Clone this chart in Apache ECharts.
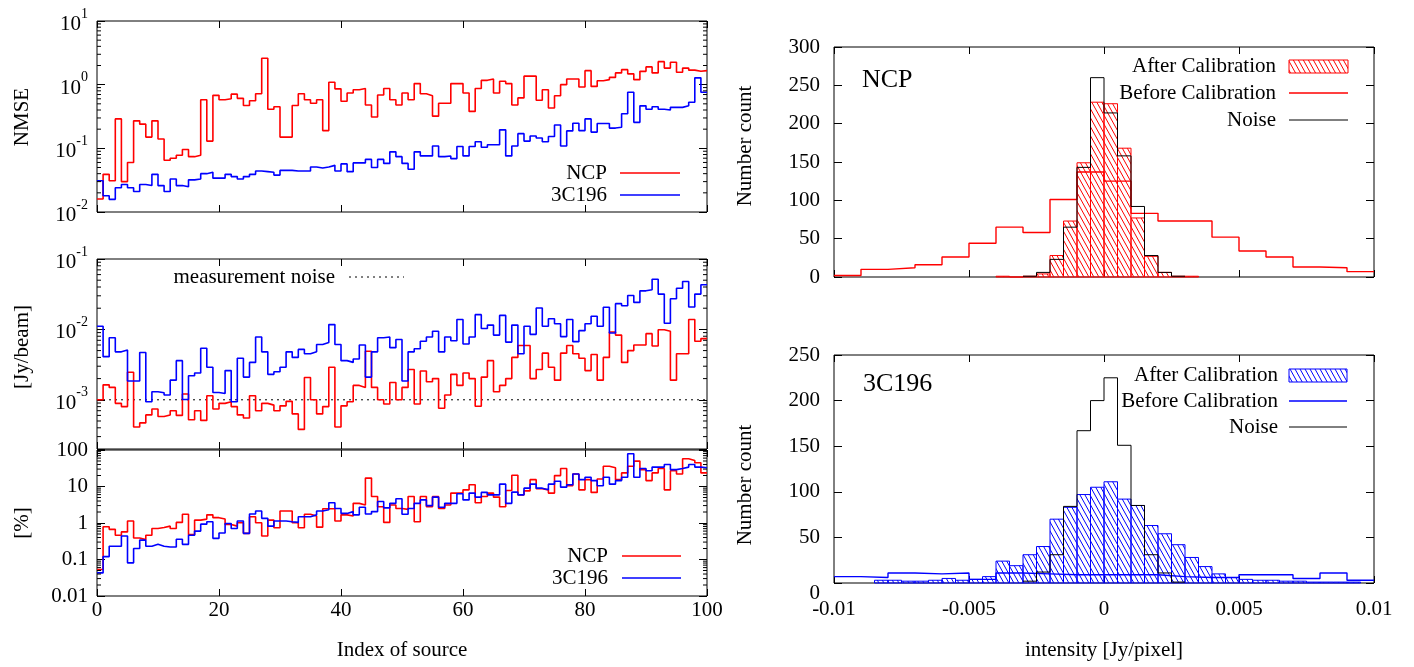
<!DOCTYPE html>
<html><head><meta charset="utf-8">
<script src="https://cdn.jsdelivr.net/npm/echarts@6/dist/echarts.min.js"></script>
<style>html,body{margin:0;padding:0;background:#fff}#c{width:1414px;height:667px}</style>
</head><body><div id="c"></div>
<script>
const FONT = '"Liberation Serif","DejaVu Serif",serif';
const RED = '#ff0000', BLUE = '#0000ff';

// ---------- left panels: per-source values (index 0..99) ----------
const nmseNCP = [0.016,0.039,0.031,0.29,0.030,0.060,0.27,0.24,0.15,0.27, 0.14,0.065,0.070,0.078,0.096,0.074,0.078,0.58,0.13,0.68, 0.58,0.60,0.71,0.61,0.47,0.56,0.72,2.6,0.41,0.45, 0.15,0.15,0.47,0.72,0.58,0.51,0.58,0.19,1.09,0.86, 0.55,0.74,0.83,0.87,0.48,0.31,0.69,0.87,0.58,0.48, 0.74,0.58,1.04,0.72,0.67,0.32,0.51,0.51,1.04,1.04, 0.74,0.38,0.87,1.17,1.23,0.74,1.13,1.04,0.48,0.62, 1.36,1.36,0.57,0.83,0.43,0.67,1.0,1.23,1.23,0.92, 1.66,0.94,1.15,1.2,1.3,1.53,1.72,1.48,1.2,1.62, 1.9,1.53,2.3,1.82,2.25,1.57,1.82,1.69,1.62,1.66];
const nmse3C196 = [0.031,0.018,0.0158,0.024,0.027,0.024,0.021,0.027,0.026,0.039, 0.026,0.021,0.033,0.026,0.025,0.032,0.033,0.040,0.042,0.034, 0.034,0.039,0.036,0.033,0.036,0.039,0.044,0.043,0.042,0.038, 0.045,0.045,0.044,0.044,0.044,0.051,0.049,0.051,0.054,0.044, 0.057,0.043,0.059,0.059,0.067,0.050,0.067,0.058,0.088,0.074, 0.058,0.047,0.088,0.076,0.076,0.109,0.074,0.076,0.069,0.107, 0.076,0.107,0.127,0.104,0.114,0.114,0.195,0.076,0.109,0.17, 0.13,0.156,0.145,0.127,0.153,0.233,0.109,0.188,0.248,0.19, 0.29,0.18,0.245,0.245,0.208,0.215,0.35,0.76,0.256,0.465, 0.41,0.45,0.41,0.40,0.44,0.44,0.465,0.53,1.28,0.76];
const jyNCP = [0.0010,0.00163,0.0015,0.00089,0.00080,0.00246,0.00041,0.00047,0.00061,0.00074, 0.00058,0.00061,0.00070,0.00060,0.00121,0.00052,0.00070,0.00051,0.00114,0.00074, 0.00089,0.00094,0.00080,0.00061,0.00055,0.00114,0.00070,0.00089,0.00084,0.00070, 0.00082,0.00095,0.00063,0.00038,0.00207,0.0010,0.00063,0.00080,0.0029,0.00041, 0.00082,0.00094,0.0016,0.0015,0.0049,0.0015,0.0010,0.00087,0.00176,0.0010, 0.0015,0.0027,0.00087,0.00256,0.0018,0.0020,0.00076,0.00117,0.0023,0.0016, 0.0024,0.0020,0.00081,0.0021,0.0036,0.0013,0.0016,0.0020,0.0040,0.0059, 0.0059,0.0020,0.0027,0.0046,0.0029,0.0019,0.0046,0.0059,0.0045,0.0039, 0.0026,0.0044,0.0019,0.0040,0.0092,0.0083,0.0034,0.0050,0.0060,0.0060, 0.0087,0.0058,0.0099,0.0094,0.0019,0.0045,0.0045,0.0138,0.0068,0.0074];
const jy3C196 = [0.0111,0.0041,0.0076,0.0048,0.0051,0.00185,0.00185,0.0047,0.00094,0.0013, 0.00126,0.00117,0.0019,0.0036,0.00101,0.0022,0.0024,0.0054,0.0029,0.00127, 0.00123,0.0026,0.00094,0.0039,0.0021,0.0034,0.0078,0.0048,0.0023,0.0025, 0.0029,0.0048,0.0040,0.0052,0.0045,0.0048,0.0061,0.0065,0.0117,0.0061, 0.0036,0.0034,0.0038,0.0060,0.0021,0.0048,0.0076,0.0078,0.0055,0.0072, 0.00185,0.0048,0.0053,0.0068,0.0078,0.0094,0.0048,0.0078,0.0069,0.0138, 0.0062,0.0078,0.0162,0.0103,0.0115,0.0083,0.0158,0.0066,0.0115,0.0045, 0.0111,0.0085,0.0201,0.0111,0.0142,0.0120,0.0079,0.0138,0.0067,0.0096, 0.0120,0.0154,0.0111,0.0206,0.0089,0.0232,0.0217,0.0303,0.0242,0.0353, 0.0365,0.0516,0.0317,0.0122,0.0272,0.0385,0.0479,0.0208,0.0317,0.0430];
const noiseLevel = 0.001;
const pctNCP = [0.053,0.79,0.67,0.46,0.57,1.13,0.39,0.35,0.46,0.71, 0.75,0.82,0.71,1.04,1.73,0.48,1.2,1.28,1.67,1.40, 1.28,0.91,0.82,1.02,0.52,1.48,1.02,0.44,1.2,0.74, 2.13,2.13,1.02,0.74,1.73,1.56,0.77,2.45,2.45,1.13, 1.67,1.56,3.45,3.1,17,5.3,2.8,1.04,3.1,2.5, 2.36,5.3,1.08,5.3,2.8,5.3,2.5,3.1,6.6,6.6, 8.1,11.2,3.6,5.3,6.6,5.1,2.8,7.8,20.3,5.9, 7.6,15.4,8.7,8.1,6.6,19.9,31,10.5,22,8.1, 15.4,6.9,16.1,36,32.5,15.4,23.6,36,49.6,29, 14.5,23.6,31,8.1,27,22,57.5,51.8,44.6,23.6];
const pct3C196 = [0.043,0.12,0.23,0.23,0.44,0.081,0.20,0.34,0.23,0.26, 0.23,0.22,0.22,0.36,0.26,0.46,0.60,0.93,1.08,0.38, 0.53,0.97,0.71,1.13,0.52,1.77,2.13,1.34,0.82,1.13, 1.13,1.08,1.04,1.48,1.48,1.67,2.13,2.3,3.6,2.5, 1.83,2.05,1.67,2.7,1.77,2.05,3.9,2.6,3.45,4.6, 1.73,2.5,3.45,4.3,3.0,5.1,2.7,3.45,3.45,6.3, 4.3,6.6,5.1,6.9,5.9,5.9,11.6,3.45,7.0,5.9, 9.0,11.6,9.0,8.1,11.6,13.9,9.6,11.2,22,15.4, 17.9,14.5,10.5,17.9,11.6,14.5,17.9,79,17.9,31, 27,34,34,40,29,31,34,40,34,32.5];

// ---------- right panels: histograms (first bin edge, bin width, counts) ----------
const afterWidth = 0.0005, beforeWidth = 0.001, noiseWidth = 0.0005;
const ncpAfterStart = -0.004;
const ncpAfter = [1,0,1,4,28,73,149,228,226,168,77,27,6,1,1];
const ncpBeforeStart = -0.01;
const ncpBefore = [2,10,12,16,26,44,65,58,101,137,125,83,73,73,52,34,26,13,12,7];
const ncpNoiseStart = -0.003;
const ncpNoise = [1,6,23,65,143,260,214,158,92,28,6,1];
const c3AfterStart = -0.0085;
const c3After = [3,3,2,2,3,5,3,4,7,24,19,31,40,70,83,97,105,111,92,85,63,54,42,28,18,10,6,4,3,3,2,2,1,1,1,1];
const c3BeforeStart = -0.01;
const c3Before = [7,6,11,10,11,4,11,10,9,9,9,9,7,6,6,9,9,5,11,3];
const c3NoiseStart = -0.003;
const c3Noise = [2,12,31,84,167,200,225,151,85,31,11,1];

// tick label text
const rightXTickText = ['-0.01','-0.005','0','0.005','0.01'];
const pctTickText = ['0.01','0.1','1','10','100'];
const minorMantissa = [2,3,4,5,6,7,8,9];

// ---------- helpers ----------
function stepData(vals){ const d = vals.map((v,i)=>[i,v]); d.push([vals.length, vals[vals.length-1]]); return d; }
function histStep(start, w, counts){ const d = counts.map((c,i)=>[+(start+i*w).toFixed(5), c]); d.push([+(start+counts.length*w).toFixed(5), counts[counts.length-1]]); return d; }
function histBars(start, w, counts){ return counts.map((c,i)=>[+(start+i*w).toFixed(5), +(start+(i+1)*w).toFixed(5), c]); }
function makeHatch(color){
  const w=5,h=9; const cv=document.createElement('canvas'); cv.width=w; cv.height=h;
  const g=cv.getContext('2d'); g.strokeStyle=color; g.lineWidth=1;
  g.beginPath(); g.moveTo(-w,-h); g.lineTo(2*w,2*h); g.moveTo(-2*w,-h); g.lineTo(w,2*h); g.moveTo(0,-h); g.lineTo(3*w,2*h); g.stroke();
  return cv;
}
const hatchR = makeHatch(RED), hatchB = makeHatch(BLUE);
function minorVals(lo, hi){ const out=[]; for(let e=Math.floor(Math.log10(lo)); e<=Math.ceil(Math.log10(hi)); e++){ minorMantissa.forEach(m=>{ const v=m*Math.pow(10,e); if(v>lo*1.0001 && v<hi*0.9999) out.push([0,v]); }); } return out; }
function pow10Label(v){ const l=Math.log10(v); const e=Math.round(l); if(Math.abs(l-e)>1e-6) return ''; return '{b|10}{s|'+e+'}'; }
const richPow = { b:{fontSize:21,fontFamily:FONT,color:'#000',lineHeight:28,verticalAlign:'bottom'}, s:{fontSize:14,fontFamily:FONT,color:'#000',lineHeight:14,verticalAlign:'top'} };

const grids = [
  {left:97, top:21, width:610, height:191},
  {left:97, top:259, width:610, height:190},
  {left:97, top:450, width:610, height:146},
  {left:834, top:47, width:540, height:230},
  {left:834, top:355, width:540, height:228}
].map(g=>Object.assign({show:true, borderColor:'#000', borderWidth:1, backgroundColor:'transparent', containLabel:false}, g));

const tickStyle = {show:true, inside:true, length:7, lineStyle:{color:'#000', width:1}};
const noLine = {show:false, onZero:false};
const xAxes = [], yAxes = [];
for (let i=0;i<5;i++){
  const left = i<3;
  const base = left ? {type:'value', min:0, max:100, interval:20} : {type:'value', min:-0.01, max:0.01, interval:0.005};
  const showLab = (i===2 || i===4);
  xAxes.push(Object.assign({}, base, {gridIndex:i, position:'bottom', axisLine:noLine, splitLine:{show:false}, axisTick:tickStyle,
    axisLabel:{show:showLab, fontFamily:FONT, fontSize:21, color:'#000', margin: i===2?4:16,
      formatter: left ? (v=>String(Math.round(v))) : (v=>rightXTickText[Math.round((v+0.01)/0.005)]) }}));
  xAxes.push(Object.assign({}, base, {gridIndex:i, position:'top', axisLine:noLine, splitLine:{show:false}, axisTick:tickStyle, axisLabel:{show:false}}));
}
const yRanges = [[0.01,10],[2e-4,0.1],[0.01,100]];
for (let i=0;i<5;i++){
  let base;
  if (i<3) base = {type:'log', logBase:10, min:yRanges[i][0], max:yRanges[i][1]};
  else base = {type:'value', min:0, max: i===3?300:250, interval:50};
  let lab;
  if (i<2) lab = {show:true, margin:9, formatter:pow10Label, rich:richPow};
  else if (i===2) lab = {show:true, margin:9, fontFamily:FONT, fontSize:21, color:'#000', formatter:(v=>{const l=Math.log10(v), e=Math.round(l); return Math.abs(l-e)>1e-6?'':pctTickText[e+2];})};
  else lab = {show:true, margin:14, fontFamily:FONT, fontSize:21, color:'#000', formatter:(v=> (i===4 && v===0) ? '{z|0}' : String(v)), rich:{z:{fontFamily:FONT, fontSize:21, color:'#000', padding:[20,0,0,0]}}};
  yAxes.push(Object.assign({}, base, {gridIndex:i, position:'left', axisLine:noLine, splitLine:{show:false}, axisTick:Object.assign({},tickStyle,{length:8}), axisLabel:lab}));
  yAxes.push(Object.assign({}, base, {gridIndex:i, position:'right', axisLine:noLine, splitLine:{show:false}, axisTick:Object.assign({},tickStyle,{length:8}), axisLabel:{show:false}}));
}

const series = [];
function stepLine(gi, data, color, width, z){
  series.push({type:'line', xAxisIndex:2*gi, yAxisIndex:2*gi, data:data, step:'end', showSymbol:false, symbol:'none', silent:true,
    lineStyle:{color:color, width:width}, z:z||2});
}
stepLine(0, stepData(nmseNCP), RED, 1.6);
stepLine(0, stepData(nmse3C196), BLUE, 1.6);
stepLine(1, stepData(jyNCP), RED, 1.6);
stepLine(1, stepData(jy3C196), BLUE, 1.6);
series.push({type:'line', xAxisIndex:2, yAxisIndex:2, data:[[0,noiseLevel],[100,noiseLevel]], showSymbol:false, symbol:'none', silent:true,
  lineStyle:{color:'#000', width:1, type:[2,4]}, z:1});
stepLine(2, stepData(pctNCP), RED, 1.6);
stepLine(2, stepData(pct3C196), BLUE, 1.6);

// minor ticks on log axes (both sides)
for (let i=0;i<3;i++){
  series.push({type:'custom', xAxisIndex:2*i, yAxisIndex:2*i, silent:true, z:5, data:minorVals(yRanges[i][0], yRanges[i][1]), encode:{x:0,y:1},
    renderItem:function(params, api){
      const v = api.value(1);
      const pl = api.coord([0, v]), pr = api.coord([100, v]);
      return {type:'group', children:[
        {type:'line', shape:{x1:pl[0], y1:pl[1], x2:pl[0]+4, y2:pl[1]}, style:{stroke:'#000', lineWidth:1}},
        {type:'line', shape:{x1:pr[0], y1:pr[1], x2:pr[0]-4, y2:pr[1]}, style:{stroke:'#000', lineWidth:1}}]};
    }});
}

// histograms
function barSeries(gi, data, color, hatch){
  series.push({type:'custom', xAxisIndex:2*gi, yAxisIndex:2*gi, silent:true, z:2, data:data, encode:{x:[0,1], y:2},
    renderItem:function(params, api){
      const p0 = api.coord([api.value(0), api.value(2)]), p1 = api.coord([api.value(1), 0]);
      return {type:'rect', shape:{x:p0[0], y:p0[1], width:p1[0]-p0[0], height:p1[1]-p0[1]},
        style:{fill:{image:hatch, repeat:'repeat'}, stroke:color, lineWidth:1}};
    }});
}
barSeries(3, histBars(ncpAfterStart, afterWidth, ncpAfter), RED, hatchR);
stepLine(3, histStep(ncpBeforeStart, beforeWidth, ncpBefore), RED, 1.4, 3);
stepLine(3, histStep(ncpNoiseStart, noiseWidth, ncpNoise), '#000', 1, 4);
barSeries(4, histBars(c3AfterStart, afterWidth, c3After), BLUE, hatchB);
stepLine(4, histStep(c3BeforeStart, beforeWidth, c3Before), BLUE, 1.4, 3);
stepLine(4, histStep(c3NoiseStart, noiseWidth, c3Noise), '#000', 1, 4);

// ---------- texts / legends ----------
function txt(x,y,t,opt){ return Object.assign({type:'text', x:x, y:y, silent:true, z:10, style:Object.assign({text:t, fontFamily:FONT, fontSize:21, fill:'#000', align:'center', verticalAlign:'middle'}, opt||{})}); }
function vtxt(x,y,t){ return {type:'text', x:x, y:y, rotation:Math.PI/2, silent:true, z:10, style:{text:t, fontFamily:FONT, fontSize:21, fill:'#000', align:'center', verticalAlign:'middle'}}; }
function seg(x1,y,x2,color,w,dash){ return {type:'line', silent:true, z:10, shape:{x1:x1,y1:y,x2:x2,y2:y}, style:{stroke:color, lineWidth:w, lineDash:dash||null}}; }
function hatchKey(x,y,w,h,color,hatch){ return {type:'rect', silent:true, z:10, shape:{x:x,y:y,width:w,height:h}, style:{fill:{image:hatch, repeat:'repeat'}, stroke:color, lineWidth:1}}; }

const graphic = [
  vtxt(22,117,'NMSE'), vtxt(22,347,'[Jy/beam]'), vtxt(22,523,'[%]'),
  vtxt(745,146,'Number count'), vtxt(745,485,'Number count'),
  txt(402,650,'Index of source'), txt(1104,650,'intensity [Jy/pixel]'),
  txt(607,173,'NCP',{align:'right'}), seg(620,173,680,RED,1.6),
  txt(607,195,'3C196',{align:'right'}), seg(620,195,680,BLUE,1.6),
  txt(335,277,'measurement noise',{align:'right'}), seg(349,277,404,'#000',1,[2,4]),
  txt(608,556,'NCP',{align:'right'}), seg(622,556,681,RED,1.6),
  txt(608,578,'3C196',{align:'right'}), seg(622,578,681,BLUE,1.6),
  txt(862,80,'NCP',{align:'left', fontSize:26}),
  txt(1276,66,'After Calibration',{align:'right'}), hatchKey(1289,60,59,13,RED,hatchR),
  txt(1276,93,'Before Calibration',{align:'right'}), seg(1289,93,1348,RED,1.4),
  txt(1276,120,'Noise',{align:'right'}), seg(1289,120,1348,'#000',1),
  txt(863,384,'3C196',{align:'left', fontSize:26}),
  txt(1278,375,'After Calibration',{align:'right'}), hatchKey(1289,369,58,13,BLUE,hatchB),
  txt(1278,401,'Before Calibration',{align:'right'}), seg(1289,401,1347,BLUE,1.4),
  txt(1278,427,'Noise',{align:'right'}), seg(1289,427,1347,'#000',1)
];

const chart = echarts.init(document.getElementById('c'), null, {renderer:'canvas'});
chart.setOption({animation:false, backgroundColor:'#fff', grid:grids, xAxis:xAxes, yAxis:yAxes, series:series, graphic:graphic});
</script></body></html>
